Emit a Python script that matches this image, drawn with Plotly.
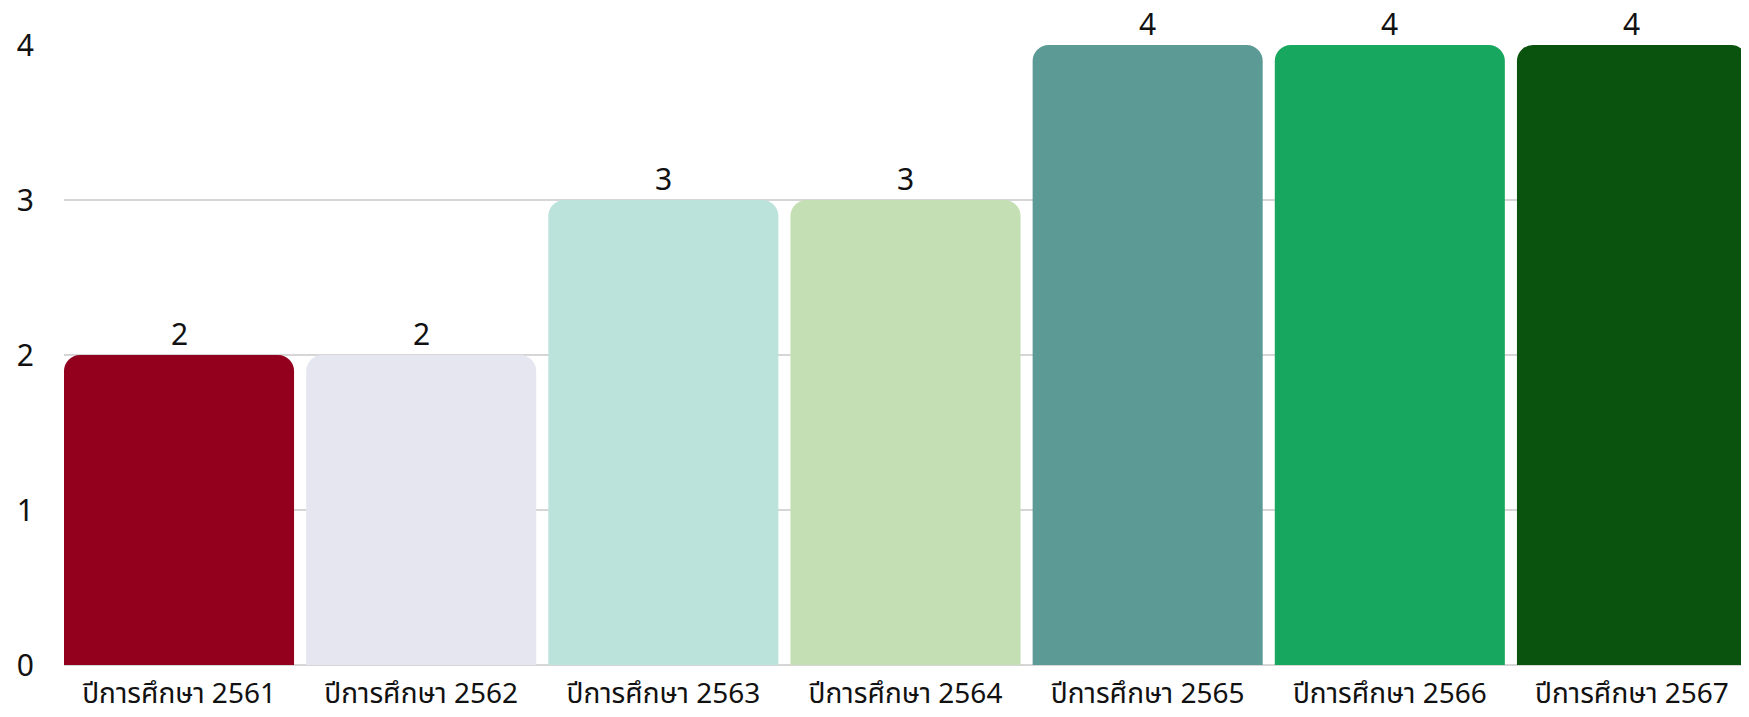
import plotly.graph_objects as go

categories = ["ปีการศึกษา 2561", "ปีการศึกษา 2562", "ปีการศึกษา 2563", "ปีการศึกษา 2564",
              "ปีการศึกษา 2565", "ปีการศึกษา 2566", "ปีการศึกษา 2567"]
values = [2, 2, 3, 3, 4, 4, 4]
colors = ["#93001D", "#E6E6F0", "#BBE3DC", "#C4DFB4", "#5C9A95", "#17A75E", "#0A530E"]
y_ticks = [0, 1, 2, 3, 4]

font_family = "'Noto Sans Thai', 'Noto Sans', sans-serif"

fig = go.Figure(go.Bar(
    x=categories,
    y=values,
    marker=dict(color=colors, line=dict(width=0)),
    cliponaxis=False,
))

# value labels just above each bar
for cat, val in zip(categories, values):
    fig.add_annotation(
        x=cat, y=val, text=str(val), showarrow=False,
        yanchor="middle", yshift=19, borderpad=0,
        font=dict(size=30, color="#111111"),
    )

# page body adds an 8px margin, so the figure is sized to fit inside the window
fig.update_layout(
    width=1741,
    height=709,
    margin=dict(l=56, r=2, t=37, b=52, autoexpand=False),
    paper_bgcolor="white",
    plot_bgcolor="white",
    bargap=0.05,
    barcornerradius=16,
    font=dict(family=font_family, color="#111111"),
    showlegend=False,
)
fig.update_xaxes(
    range=[-0.475, 6.475],
    tickfont=dict(size=28),
    showgrid=False,
    showline=False,
    ticks="",
    automargin=False,
    ticklabelstandoff=9,
)
fig.update_yaxes(
    range=[0, 4],
    tickvals=y_ticks,
    tickfont=dict(size=30),
    showgrid=True,
    gridcolor="#D6D6D6",
    gridwidth=1.5,
    zeroline=True,
    zerolinecolor="#D6D6D6",
    automargin=False,
    ticklabelstandoff=29,
)

fig.write_html("out.html")
